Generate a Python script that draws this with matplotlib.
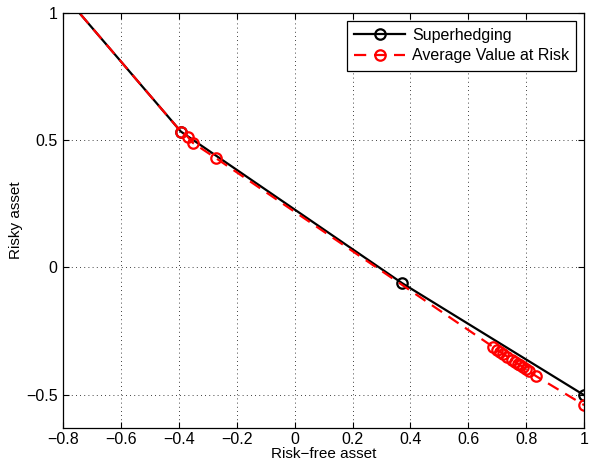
import matplotlib
matplotlib.use("Agg")
from matplotlib import pyplot as plt

# superhedging frontier (first vertex lies above the axes and is clipped)
sh_x = [-0.85, -0.393, 0.371, 1.0]
sh_y = [1.14, 0.533, -0.062, -0.502]

# average value at risk frontier
avar_x = [-0.85, -0.393, -0.370, -0.352, -0.271, 0.685, 0.70, 0.71, 0.72, 0.735,
          0.75, 0.76, 0.77, 0.78, 0.79, 0.80, 0.81, 0.835, 1.0]
avar_y = [1.14, 0.533, 0.513, 0.489, 0.428, -0.312, -0.324, -0.331, -0.339, -0.351,
          -0.362, -0.370, -0.378, -0.385, -0.393, -0.401, -0.409, -0.428, -0.541]

x_ticks = [-0.8, -0.6, -0.4, -0.2, 0, 0.2, 0.4, 0.6, 0.8, 1]
y_ticks = [-0.5, 0, 0.5, 1]

plt.rcParams['font.family'] = ['Liberation Sans', 'DejaVu Sans']
plt.rcParams['font.size'] = 11.5

fig = plt.figure(figsize=(5.9, 4.63), dpi=100)
ax = fig.add_axes([0.107, 0.0756, 0.883, 0.897])

ax.plot(sh_x, sh_y, '-o', color='black', lw=1.6, ms=7.5, mfc='none', mew=1.6,
        label='Superhedging')
ax.plot(avar_x, avar_y, '--o', color='red', lw=1.6, ms=7.5, mfc='none', mew=1.6,
        dashes=(5.5, 3.5), label='Average Value at Risk')


def fmt(t):
    s = '%g' % t
    return s.replace('-', '\u2212')


ax.set_xlim(-0.8, 1)
ax.set_ylim(-0.631, 1)
ax.set_xticks(x_ticks)
ax.set_xticklabels([fmt(t) for t in x_ticks])
ax.set_yticks(y_ticks)
ax.set_yticklabels([fmt(t) for t in y_ticks])
ax.tick_params(direction='in', top=True, right=True, length=4, width=0.8, pad=3)
ax.tick_params(axis='y', pad=4)
ax.grid(True, color='black', linestyle=(0, (1, 4)), linewidth=0.6)
for s in ax.spines.values():
    s.set_linewidth(0.9)

ax.set_xlabel('Risk\u2212free asset', fontsize=11, labelpad=0)
ax.set_ylabel('Risky asset', fontsize=11, labelpad=2)

leg = ax.legend(loc='upper right', fancybox=False, framealpha=1, edgecolor='black',
                borderaxespad=0.5, handlelength=3.2, handletextpad=0.4,
                borderpad=0.45, labelspacing=0.35)
leg.get_frame().set_linewidth(0.9)

fig.savefig('out.png', dpi=100)
